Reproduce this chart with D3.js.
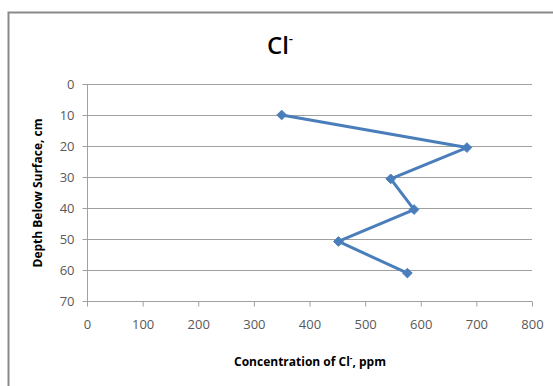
<!DOCTYPE html>
<html>
<head>
<meta charset="utf-8">
<script src="https://cdn.jsdelivr.net/npm/d3@7"></script>
<style>
  html, body { margin: 0; padding: 0; background: #fff; }
  svg { display: block; }
  text { font-family: "Open Sans", sans-serif; }
</style>
</head>
<body>
<svg id="chart" width="553" height="386"></svg>
<script>
// Data
const concentrations = [350, 683, 546, 588, 452, 576];   // ppm
const depths = [10, 20.5, 30.6, 40.5, 50.8, 61];          // cm
const xTickValues = [0, 100, 200, 300, 400, 500, 600, 700, 800];
const yTickValues = [0, 10, 20, 30, 40, 50, 60, 70];
const titleMain = "Cl";
const titleSup = "-";
const xTitleMain = "Concentration of Cl";
const xTitleSup = "-";
const xTitleEnd = ", ppm";
const yTitle = "Depth Below Surface, cm";

const svg = d3.select("#chart");

// chart frame (only top & left edges visible in the crop)
svg.append("rect")
  .attr("x", 8.5).attr("y", 12.5)
  .attr("width", 600).attr("height", 400)
  .attr("fill", "#fff")
  .attr("stroke", "#898989").attr("stroke-width", 2);

const x = d3.scaleLinear().domain([0, 800]).range([87, 532]);
const y = d3.scaleLinear().domain([0, 70]).range([84, 301]);

// gridlines
svg.append("g")
  .selectAll("line")
  .data(yTickValues.slice(0, -1))
  .join("line")
  .attr("x1", x(0)).attr("x2", x(800))
  .attr("y1", d => Math.round(y(d)) + 0.5)
  .attr("y2", d => Math.round(y(d)) + 0.5)
  .attr("stroke", "#a0a0a0").attr("stroke-width", 1);

// x axis
const xAxis = svg.append("g")
  .attr("transform", `translate(0,${Math.round(y(70)) + 0.5})`)
  .call(d3.axisBottom(x).tickValues(xTickValues).tickSize(5).tickPadding(13).tickFormat(d3.format("d")));
xAxis.select(".domain").attr("stroke", "#a0a0a0").attr("d", `M${x(0)},0H${x(800)}`);
xAxis.selectAll(".tick line").attr("stroke", "#a0a0a0");
xAxis.selectAll(".tick text")
  .attr("fill", "#595959")
  .style("font-size", "13px")
  .style("font-family", "'Open Sans', sans-serif");

// y axis
const yAxis = svg.append("g")
  .attr("transform", `translate(${Math.round(x(0)) + 0.5},0)`)
  .call(d3.axisLeft(y).tickValues(yTickValues).tickSize(5).tickPadding(8).tickFormat(d3.format("d")));
yAxis.select(".domain").attr("stroke", "#a0a0a0").attr("d", `M0,${y(0)}V${y(70)}`);
yAxis.selectAll(".tick line").attr("stroke", "#a0a0a0");
yAxis.selectAll(".tick text")
  .attr("fill", "#595959")
  .style("font-size", "13px")
  .style("font-family", "'Open Sans', sans-serif");

// series line
const pts = concentrations.map((c, i) => [c, depths[i]]);
svg.append("path")
  .datum(pts)
  .attr("fill", "none")
  .attr("stroke", "#4a7ebb")
  .attr("stroke-width", 3)
  .attr("stroke-linejoin", "round")
  .attr("d", d3.line().x(d => x(d[0])).y(d => y(d[1])));

// diamond markers
svg.append("g")
  .selectAll("path")
  .data(pts)
  .join("path")
  .attr("transform", d => `translate(${x(d[0])},${y(d[1])})`)
  .attr("d", d3.symbol().type(d3.symbolDiamond2).size(60))
  .attr("fill", "#4a7ebb")
  .attr("stroke", "#4a7ebb")
  .attr("stroke-width", 1);

// title
const t = svg.append("text")
  .attr("x", 280).attr("y", 54)
  .attr("text-anchor", "middle")
  .attr("fill", "#000")
  .style("font-size", "24px")
  .style("font-weight", "600");
t.append("tspan").text(titleMain);
t.append("tspan").attr("dy", -11).style("font-size", "13px").text(titleSup);

// x axis title
const xt = svg.append("text")
  .attr("x", 310).attr("y", 366)
  .attr("text-anchor", "middle")
  .attr("fill", "#000")
  .style("font-size", "12px")
  .style("font-weight", "bold");
xt.append("tspan").text(xTitleMain);
xt.append("tspan").attr("dy", -5).style("font-size", "8px").text(xTitleSup);
xt.append("tspan").attr("dy", 5).text(xTitleEnd);

// y axis title
svg.append("text")
  .attr("transform", "translate(42,193) rotate(-90)")
  .attr("text-anchor", "middle")
  .attr("fill", "#000")
  .style("font-size", "12px")
  .style("font-weight", "bold")
  .text(yTitle);
</script>
</body>
</html>
